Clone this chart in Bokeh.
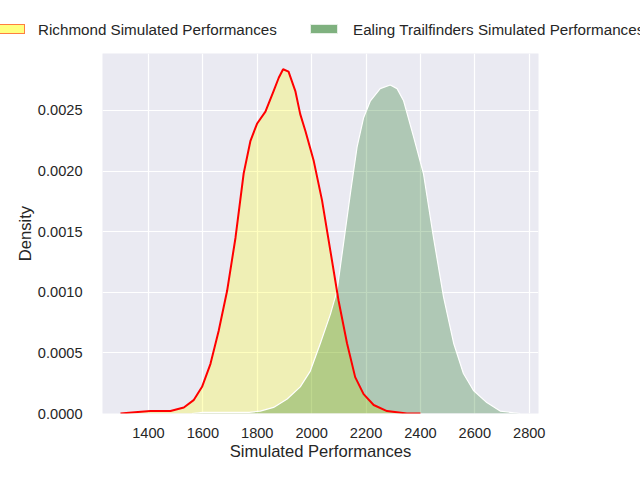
from bokeh.plotting import figure
from bokeh.layouts import column
from bokeh.models import FixedTicker, PrintfTickFormatter, Range1d, Div
from bokeh.embed import file_html
from bokeh.resources import INLINE

# Richmond simulated performances (KDE)
rich_x = [1297, 1350, 1407, 1440, 1481, 1530, 1566, 1597, 1628, 1658, 1689, 1720,
          1750, 1775, 1799, 1830, 1860, 1879, 1895, 1915, 1940, 1958, 1977, 2007,
          2038, 2069, 2099, 2130, 2160, 2191, 2228, 2277, 2350, 2400]
rich_y = [0.0, 0.00001, 0.00002, 0.00002, 0.00002, 0.00005, 0.00011, 0.00022,
          0.00041, 0.00068, 0.00101, 0.00145, 0.00198, 0.00225, 0.00239, 0.00249,
          0.00266, 0.00277, 0.00284, 0.00282, 0.00266, 0.00247, 0.00233, 0.00209,
          0.00176, 0.00134, 0.00093, 0.00058, 0.0003, 0.00016, 0.00007, 0.00002,
          0.0, 0.0]

# Ealing Trailfinders simulated performances
eal_x = [1560, 1600, 1700, 1770, 1811, 1860, 1910, 1958, 1995, 2032, 2069, 2093,
         2117, 2142, 2167, 2191, 2216, 2252, 2289, 2314, 2338, 2375, 2411, 2448,
         2485, 2522, 2558, 2595, 2644, 2693, 2767]
eal_y = [0.0, 0.00001, 0.00001, 0.00001, 0.00002, 0.00005, 0.00012, 0.00022,
         0.00035, 0.00058, 0.00082, 0.00101, 0.0014, 0.00181, 0.0022, 0.00244,
         0.00258, 0.00268, 0.00271, 0.00268, 0.00258, 0.00228, 0.00198, 0.00145,
         0.00096, 0.00058, 0.00033, 0.00019, 0.00009, 0.00002, 0.0]

x_ticks = [1400, 1600, 1800, 2000, 2200, 2400, 2600, 2800]
y_ticks = [0.0, 0.0005, 0.001, 0.0015, 0.002, 0.0025]

labels = ["Richmond Simulated Performances", "Ealing Trailfinders Simulated Performances"]

TXT = "#262626"
FONT = "Liberation Sans"

p = figure(width=640, height=427, output_backend="svg", toolbar_location=None,
           x_range=Range1d(1231, 2834), y_range=Range1d(0, 0.00297),
           min_border_left=102, min_border_right=102, min_border_top=0, min_border_bottom=67)
p.background_fill_color = "#eaeaf2"
p.border_fill_color = "white"
p.outline_line_color = None

p.xgrid.grid_line_color = "white"
p.ygrid.grid_line_color = "white"
p.xgrid.grid_line_width = 1.2
p.ygrid.grid_line_width = 1.2

for ax in (p.xaxis, p.yaxis):
    ax.axis_line_color = None
    ax.major_tick_line_color = None
    ax.minor_tick_line_color = None
    ax.major_label_text_font = FONT
    ax.major_label_text_font_size = "14.6px"
    ax.major_label_text_color = TXT
    ax.axis_label_text_font = FONT
    ax.axis_label_text_font_size = "16.6px"
    ax.axis_label_text_color = TXT
    ax.axis_label_text_font_style = "normal"

p.xaxis.ticker = FixedTicker(ticks=x_ticks)
p.yaxis.ticker = FixedTicker(ticks=y_ticks)
p.yaxis.formatter = PrintfTickFormatter(format="%.4f")
p.xaxis.axis_label = "Simulated Performances"
p.yaxis.axis_label = "Density"
p.xaxis.major_label_standoff = 8
p.yaxis.major_label_standoff = 14
p.xaxis.axis_label_standoff = 1
p.yaxis.axis_label_standoff = 0

# Richmond
p.varea(x=rich_x, y1=0, y2=rich_y, fill_color="yellow", fill_alpha=0.25)
# Ealing
p.varea(x=eal_x, y1=0, y2=eal_y, fill_color="darkgreen", fill_alpha=0.25)
p.line(eal_x, eal_y, line_color="white", line_width=1.2)
p.line(rich_x, rich_y, line_color="red", line_width=2)

# legend strip (HTML, real text)
box = "position:absolute;top:24px;width:28px;height:10px;"
lab = "position:absolute;top:22px;line-height:16px;white-space:nowrap;"
html = (
    f'<div style="position:relative;width:640px;height:53px;overflow:hidden;'
    f"font-family:'{FONT}';font-size:15.2px;color:{TXT};background:white;\">"
    f'<span style="{box}left:-3px;background:rgba(255,255,0,0.5);'
    f'border:1px solid rgba(255,0,0,0.5);"></span>'
    f'<span style="{lab}left:38px;">{labels[0]}</span>'
    f'<span style="{box}left:310px;background:rgba(0,100,0,0.5);'
    f'border:1px solid rgba(255,255,255,0.8);"></span>'
    f'<span style="{lab}left:353px;">{labels[1]}</span>'
    f'</div>'
)
legend_div = Div(text=html, width=640, height=53, margin=(0, 0, 0, 0))

layout = column(legend_div, p, spacing=0)
open("out.html", "w").write(file_html(layout, INLINE))
